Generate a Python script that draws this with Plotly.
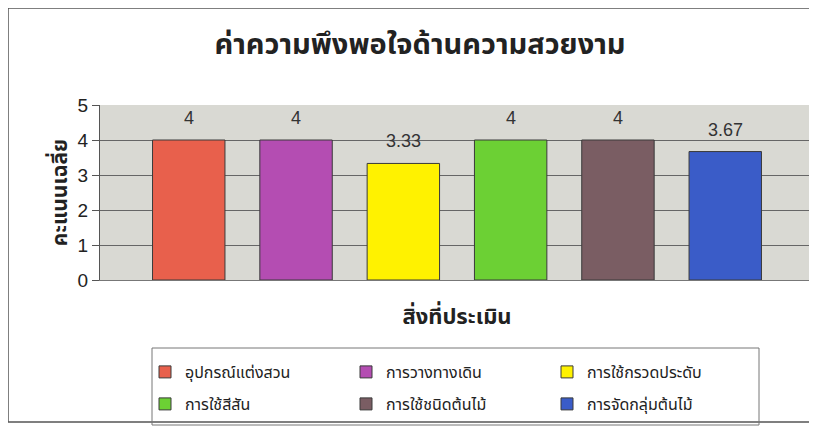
import plotly.graph_objects as go

title = "ค่าความพึงพอใจด้านความสวยงาม"
x_title = "สิ่งที่ประเมิน"
y_title = "คะแนนเฉลี่ย"
series_names = ["อุปกรณ์แต่งสวน", "การวางทางเดิน", "การใช้กรวดประดับ",
                "การใช้สีสัน", "การใช้ชนิดต้นไม้", "การจัดกลุ่มต้นไม้"]
series_values = [4, 4, 3.33, 4, 4, 3.67]
series_colors = ["#e8604c", "#b44db2", "#fff200", "#6cd034", "#7a5d63", "#3a5cc8"]

# page body margin offsets the figure by 8px
OFF = 8
W, H = 817, 428
# plot area in screen pixels: x 100..814, y 105..280
L = 100 - OFF
T = 105 - OFF
R = W - (814 - OFF)
B = H - (280 - OFF)
pw = W - L - R
ph = H - T - B


def px_x(p):
    return (p - OFF - L) / pw


def px_y(p):
    return (H - B - (p - OFF)) / ph


font_fam = "Noto Sans Thai, Loma, Tahoma, Liberation Sans, sans-serif"
num_fam = "Liberation Sans, Arial, sans-serif"

fig = go.Figure()
for i, (name, val, col) in enumerate(zip(series_names, series_values, series_colors)):
    fig.add_trace(go.Bar(
        x=[name], y=[val], name=name,
        legend="legend" if i < 3 else "legend2",
        marker=dict(color=col, line=dict(color="#3a3a3a", width=1)),
        width=0.675,
    ))
    fig.add_annotation(x=name, y=val, text=f"{val:g}", showarrow=False,
                       yanchor="bottom", yshift=10,
                       font=dict(size=18, color="#333333", family=num_fam))

leg_common = dict(orientation="h", xanchor="left", yanchor="middle",
                  entrywidth=156, traceorder="normal", borderwidth=0,
                  bgcolor="rgba(0,0,0,0)",
                  font=dict(size=16, color="#222222", family=font_fam),
                  itemwidth=30)

fig.update_layout(
    width=W, height=H,
    margin=dict(l=L, r=R, t=T, b=B),
    paper_bgcolor="white",
    plot_bgcolor="#d9d9d3",
    barmode="overlay",
    title=dict(text="<b>" + title + "</b>", x=(420 - OFF) / W, xanchor="center",
               y=1 - (44 - OFF) / H, yanchor="middle",
               font=dict(size=29, color="#222222", family=font_fam)),
    showlegend=True,
    legend=dict(x=px_x(145), y=px_y(372), **leg_common),
    legend2=dict(x=px_x(145), y=px_y(404), **leg_common),
    xaxis=dict(showticklabels=False, showline=True, linecolor="#777777", linewidth=1,
               range=[-0.827, 5.827],
               title=dict(text="<b>" + x_title + "</b>",
                          font=dict(size=22, color="#222222", family=font_fam), standoff=28)),
    yaxis=dict(range=[0, 5], dtick=1, showline=True, linecolor="#555555", linewidth=1,
               ticks="outside", ticklen=7, tickcolor="#555555",
               gridcolor="#666666", gridwidth=1, zeroline=False,
               tickfont=dict(size=19, color="#222222", family=num_fam),
               title=dict(text="<b>" + y_title + "</b>",
                          font=dict(size=21, color="#222222", family=font_fam), standoff=4)),
    shapes=[
        dict(type="rect", xref="paper", yref="paper",
             x0=px_x(8), x1=px_x(W + 20), y0=px_y(422), y1=px_y(8),
             line=dict(color="#555555", width=1.5), layer="below"),
        dict(type="rect", xref="paper", yref="paper",
             x0=px_x(152), x1=px_x(759), y0=px_y(425), y1=px_y(348),
             line=dict(color="#777777", width=1), layer="below"),
    ],
)
fig.write_html("out.html")
